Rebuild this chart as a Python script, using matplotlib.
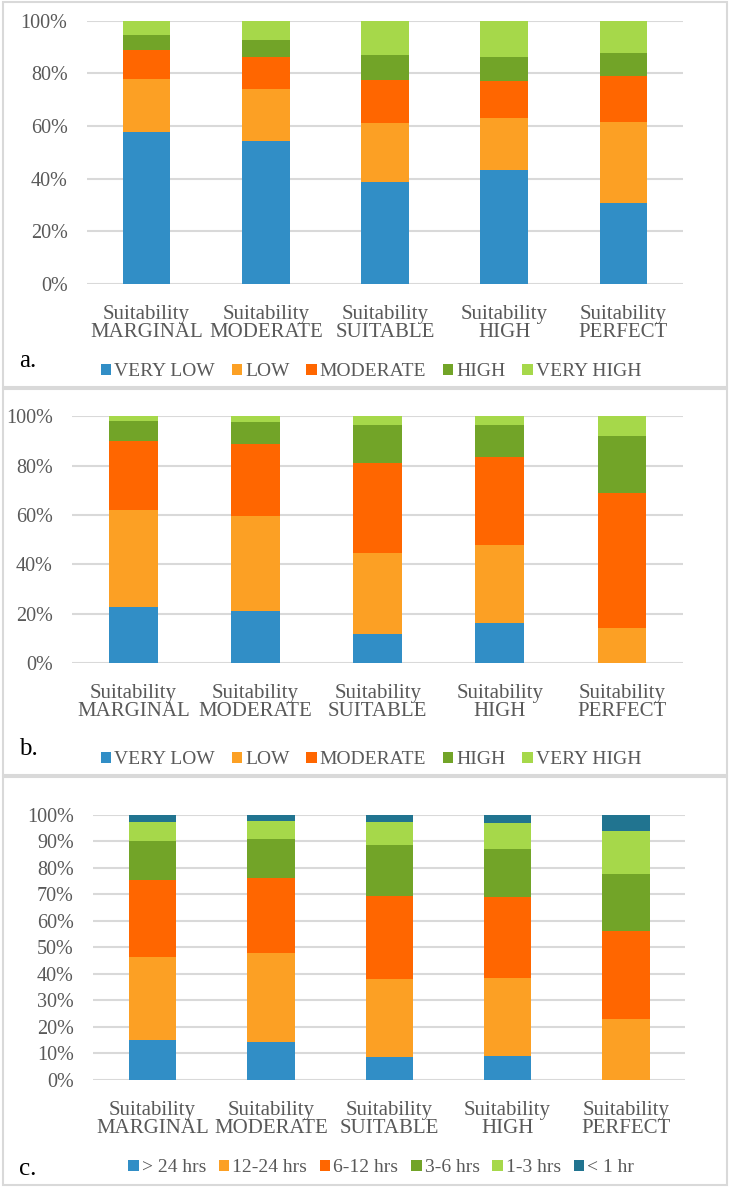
import matplotlib
matplotlib.use("Agg")
import matplotlib.pyplot as plt
from matplotlib.patches import Rectangle, Patch

plt.rcParams['font.family'] = ['Liberation Serif', 'DejaVu Serif']

categories = ["Suitability\nMARGINAL", "Suitability\nMODERATE", "Suitability\nSUITABLE",
              "Suitability\nHIGH", "Suitability\nPERFECT"]

levels_ab = ["VERY LOW", "LOW", "MODERATE", "HIGH", "VERY HIGH"]
# Panel a (percent)
a_very_low = [57.7, 54.3, 38.7, 43.3, 30.6]
a_low = [20.0, 19.8, 22.3, 19.7, 30.9]
a_moderate = [11.2, 12.1, 16.5, 14.1, 17.6]
a_high = [5.5, 6.5, 9.3, 9.1, 8.5]
a_very_high = [5.6, 7.3, 13.2, 13.8, 12.4]

# Panel b (percent)
b_very_low = [22.9, 21.1, 11.9, 16.5, 0.0]
b_low = [39.2, 38.7, 32.9, 31.4, 14.4]
b_moderate = [27.9, 29.0, 36.2, 35.5, 54.4]
b_high = [8.2, 8.8, 15.4, 13.0, 23.2]
b_very_high = [1.8, 2.4, 3.6, 3.6, 8.0]

# Panel c (percent)
levels_c = ["> 24 hrs", "12-24 hrs", "6-12 hrs", "3-6 hrs", "1-3 hrs", "< 1 hr"]
c_gt24 = [14.9, 14.2, 8.5, 9.0, 0.0]
c_12_24 = [31.5, 33.7, 29.4, 29.5, 23.0]
c_6_12 = [29.0, 28.2, 31.5, 30.6, 33.1]
c_3_6 = [14.6, 14.6, 19.2, 17.9, 21.7]
c_1_3 = [7.1, 6.8, 8.8, 10.0, 16.1]
c_lt1 = [2.9, 2.5, 2.6, 3.0, 6.1]

colors5 = ["#318EC6", "#FCA024", "#FF6600", "#72A428", "#A6D84A"]
colors6 = colors5 + ["#217490"]

W, H = 730, 1187
fig = plt.figure(figsize=(W / 100, H / 100), dpi=100)
GRID = "#D9D9D9"
TXT = "#595959"


def px_axes(x0, x1, ytop, ybot):
    return fig.add_axes([x0 / W, 1 - ybot / H, (x1 - x0) / W, (ybot - ytop) / H])


def frame(y0, y1):
    fig.patches.append(Rectangle((3 / W, 1 - y1 / H), (724) / W, (y1 - y0) / H,
                                 transform=fig.transFigure, fill=False,
                                 edgecolor=GRID, lw=1.5))


def panel(ax, series, labels, colors, yticks, legend_y, legend_x, label, label_y,
          leg_fs=14, colsp=1.2):
    x = range(len(categories))
    bottom = [0.0] * len(categories)
    for vals, col in zip(series, colors):
        ax.bar(x, vals, 0.4, bottom=bottom, color=col, zorder=3)
        bottom = [b + v for b, v in zip(bottom, vals)]
    ax.set_xlim(-0.5, len(categories) - 0.5)
    ax.set_ylim(0, 100)
    ax.set_yticks(yticks)
    ax.set_yticklabels([f"{t}%" for t in yticks])
    ax.set_xticks(list(x))
    ax.set_xticklabels(categories, linespacing=0.95)
    ax.grid(axis="y", color=GRID, lw=1.5, zorder=0)
    for s in ax.spines.values():
        s.set_visible(False)
    ax.tick_params(axis="both", length=0, colors=TXT)
    ax.tick_params(axis="y", labelsize=14.5, pad=14)
    ax.tick_params(axis="x", labelsize=15, pad=15)
    handles = [Patch(facecolor=c, edgecolor="none") for c in colors]
    fig.legend(handles, labels, loc="center", ncol=len(labels),
               bbox_to_anchor=(legend_x / W, 1 - legend_y / H),
               frameon=False, fontsize=leg_fs, handlelength=0.55, handleheight=0.55,
               handletextpad=0.15, columnspacing=colsp, labelcolor=TXT)
    fig.text(19 / W, 1 - label_y / H, label, fontsize=18, color="black",
             va="baseline", ha="left")


frame(2, 387)
frame(389, 775)
frame(777, 1185)

ax_a = px_axes(87, 683, 20.7, 284)
panel(ax_a, [a_very_low, a_low, a_moderate, a_high, a_very_high], levels_ab, colors5,
      [0, 20, 40, 60, 80, 100], 372, 371, "a.", 367, colsp=0.85)

ax_b = px_axes(72.4, 683, 416.3, 663.3)
panel(ax_b, [b_very_low, b_low, b_moderate, b_high, b_very_high], levels_ab, colors5,
      [0, 20, 40, 60, 80, 100], 760, 371, "b.", 755, colsp=0.85)

ax_c = px_axes(93.4, 685, 814.7, 1080)
panel(ax_c, [c_gt24, c_12_24, c_6_12, c_3_6, c_1_3, c_lt1], levels_c, colors6,
      list(range(0, 101, 10)), 1168, 381, "c.", 1175, leg_fs=14, colsp=0.65)

fig.savefig("out.png", dpi=100)
